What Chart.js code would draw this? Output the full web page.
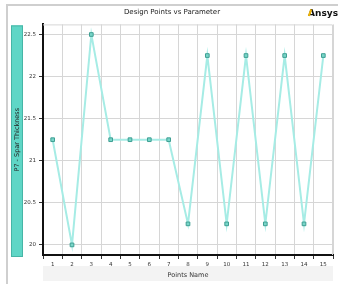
<!DOCTYPE html>
<html>
<head>
<meta charset="utf-8">
<script src="https://cdn.jsdelivr.net/npm/chart.js@4/dist/chart.umd.min.js"></script>
<style>
html,body{margin:0;padding:0;background:#fff;}
#wrap{position:relative;width:338px;height:284px;}
</style>
</head>
<body>
<div id="wrap"><canvas id="c" width="338" height="284"></canvas></div>
<script>
const categories = ["1","2","3","4","5","6","7","8","9","10","11","12","13","14","15"];
const thickness = [21.25, 20, 22.5, 21.25, 21.25, 21.25, 21.25, 20.25, 22.25, 20.25, 22.25, 20.25, 22.25, 20.25, 22.25];
const yTicks = [20, 20.5, 21, 21.5, 22, 22.5];
const chartTitle = "Design Points vs Parameter";
const yTitle = "P7 - Spar Thickness";
const xTitle = "Points Name";
const brand = "Ansys";

const FONT = "'DejaVu Sans', sans-serif";

const decor = {
  id: 'decor',
  beforeDraw(chart) {
    const ctx = chart.ctx;
    const a = chart.chartArea;
    ctx.save();
    ctx.strokeStyle = '#cfcfcf';
    ctx.lineWidth = 2;
    ctx.beginPath();
    ctx.moveTo(7, 284);
    ctx.lineTo(7, 5);
    ctx.lineTo(338, 5);
    ctx.stroke();
    ctx.fillStyle = '#5fd6c6';
    ctx.strokeStyle = '#46b5a6';
    ctx.lineWidth = 1;
    ctx.fillRect(11, a.top + 1, 12, a.bottom - a.top + 1);
    ctx.strokeRect(11.5, a.top + 1.5, 11, a.bottom - a.top);
    ctx.fillStyle = '#f3f3f3';
    ctx.fillRect(a.left, 266, a.right - a.left, 15);
    ctx.restore();
  },
  beforeDatasetsDraw(chart) {
    const ctx = chart.ctx;
    const a = chart.chartArea;
    ctx.save();
    ctx.strokeStyle = '#d6d6d6';
    ctx.lineWidth = 1;
    ctx.beginPath();
    ctx.moveTo(a.left, a.top + 0.5);
    ctx.lineTo(a.right - 0.5, a.top + 0.5);
    ctx.lineTo(a.right - 0.5, a.bottom);
    ctx.stroke();
    ctx.restore();
  },
  afterDraw(chart) {
    const ctx = chart.ctx;
    ctx.save();
    ctx.font = "bold 9px 'DejaVu Sans', sans-serif";
    ctx.textAlign = 'right';
    ctx.textBaseline = 'alphabetic';
    ctx.fillStyle = '#111';
    ctx.fillText(brand, 338, 16);
    const w = ctx.measureText(brand).width;
    const aw = ctx.measureText('A').width;
    const x0 = 338 - w;
    ctx.strokeStyle = '#f2b705';
    ctx.lineWidth = 2;
    ctx.beginPath();
    ctx.moveTo(x0 + 0.8, 16);
    ctx.lineTo(x0 + aw / 2 - 0.3, 9.3);
    ctx.stroke();
    ctx.restore();
  }
};

new Chart(document.getElementById('c'), {
  type: 'line',
  data: {
    labels: categories,
    datasets: [{
      data: thickness,
      borderColor: '#a6ece5',
      borderWidth: 2,
      backgroundColor: '#78d5c8',
      pointStyle: 'rect',
      pointRadius: 2.6,
      pointBorderColor: '#3f9f93',
      pointBorderWidth: 1,
      pointBackgroundColor: '#78d5c8',
      tension: 0,
      fill: false
    }]
  },
  options: {
    responsive: false,
    animation: false,
    events: [],
    layout: { padding: { left: 10, right: 4, top: 0, bottom: 0 } },
    plugins: {
      legend: { display: false },
      tooltip: { enabled: false },
      title: {
        display: true,
        text: chartTitle,
        color: '#222',
        font: { family: FONT, size: 7, weight: 'normal' },
        padding: { top: 8, bottom: 8 }
      }
    },
    scales: {
      x: {
        type: 'category',
        offset: true,
        grid: { offset: true, color: '#d6d6d6', lineWidth: 1, tickLength: 4, tickColor: '#333' },
        border: { color: '#111', width: 2 },
        ticks: { color: '#333', font: { family: FONT, size: 5.5 }, padding: 2, maxRotation: 0, autoSkip: false },
        title: { display: true, text: xTitle, color: '#333', font: { family: FONT, size: 6.5 }, padding: { top: 0, bottom: 5 } },
        afterFit(s) { s.height = 29; }
      },
      y: {
        type: 'linear',
        min: 19.88,
        max: 22.62,
        afterBuildTicks(s) { s.ticks = yTicks.map(v => ({ value: v })); },
        grid: { color: '#d6d6d6', lineWidth: 1, tickLength: 4, tickColor: '#333' },
        border: { color: '#111', width: 2 },
        ticks: { color: '#333', font: { family: FONT, size: 5.5 }, padding: 3, callback: v => String(v) },
        title: { display: true, text: yTitle, color: '#222', font: { family: FONT, size: 6.5 }, padding: { top: 3, bottom: 0 } },
        afterFit(s) { s.width = 33; }
      }
    }
  },
  plugins: [decor]
});
</script>
</body>
</html>
